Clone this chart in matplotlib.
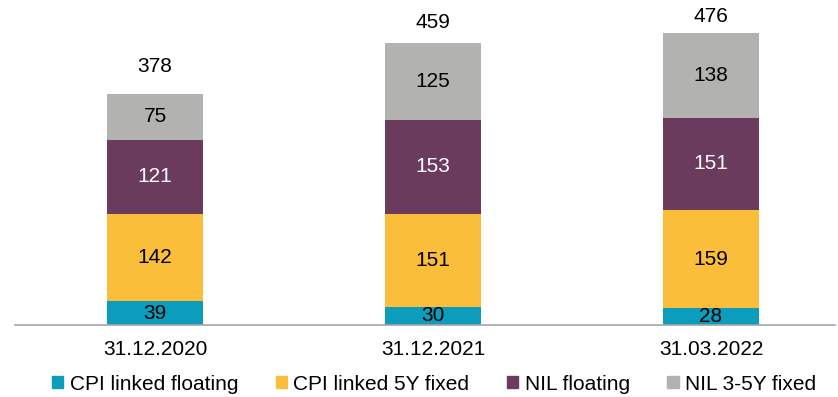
import matplotlib.pyplot as plt
import numpy as np
from matplotlib.patches import Patch

plt.rcParams['font.family'] = ['Liberation Sans', 'DejaVu Sans']

dates = ["31.12.2020", "31.12.2021", "31.03.2022"]
series_names = ["CPI linked floating", "CPI linked 5Y fixed", "NIL floating", "NIL 3-5Y fixed"]
cpi_floating = [39, 30, 28]
cpi_fixed = [142, 151, 159]
nil_floating = [121, 153, 151]
nil_fixed = [75, 125, 138]
totals = [378, 459, 476]

colors = ["#0B9DBB", "#FBBE3A", "#6B3B5E", "#B2B2B1"]
text_colors = ["black", "black", "white", "black"]
total_pad = [19, 15, 12]  # points above each bar

fig = plt.figure(figsize=(8.38, 3.97), dpi=100)
ax = fig.add_axes([15 / 838, 72 / 397, 820 / 838, 325 / 397])

x = np.arange(len(dates))
bottom = np.zeros(len(dates))
for vals, col, tcol in zip([cpi_floating, cpi_fixed, nil_floating, nil_fixed], colors, text_colors):
    vals = np.array(vals)
    ax.bar(x, vals, width=0.345, bottom=bottom, color=col)
    for xi, b, v in zip(x, bottom, vals):
        ax.text(xi, b + v / 2, str(v), ha="center", va="center", fontsize=15, color=tcol)
    bottom += vals

for xi, t, pad in zip(x, totals, total_pad):
    ax.annotate(str(t), (xi, t), xytext=(0, pad), textcoords="offset points",
                ha="center", va="center", fontsize=15)

ax.set_xlim(-0.504, 2.446)
ax.set_ylim(0, 529.5)
ax.set_xticks(x)
ax.set_xticklabels(dates, fontsize=15)
ax.tick_params(axis="x", length=0, pad=11)
ax.set_yticks([])
for side in ["left", "right", "top"]:
    ax.spines[side].set_visible(False)
ax.spines["bottom"].set_color("#A6A6A6")
ax.spines["bottom"].set_linewidth(1.2)

handles = [Patch(color=c) for c in colors]
fig.legend(handles, series_names, loc="center", bbox_to_anchor=(434 / 838, 13 / 397), ncol=4,
           frameon=False, fontsize=15, handlelength=0.55, handleheight=0.55,
           handletextpad=0.3, columnspacing=1.8)

fig.savefig("out.png", dpi=100)
